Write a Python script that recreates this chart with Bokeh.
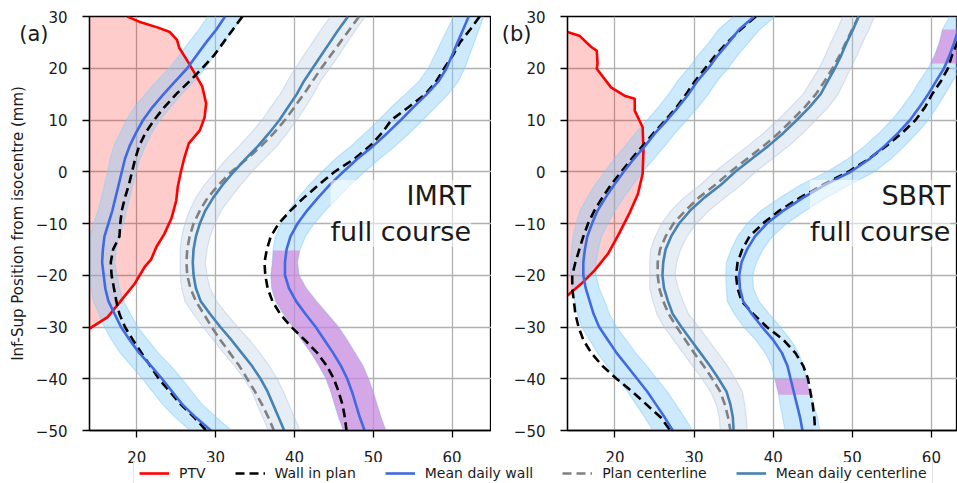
import numpy as np
from bokeh.plotting import figure
from bokeh.models import Range1d, Legend, LegendItem, FixedTicker, LinearAxis, Label
from bokeh.layouts import column, row
from bokeh.embed import file_html
from bokeh.resources import INLINE

FONT = "DejaVu Sans"

# ---------------- data ----------------
y_grid = [30, 27.5, 25, 22.5, 20, 17.5, 15, 12.5, 10, 7.5, 5, 2.5, 0, -2.5, -5, -7.5, -10,
          -12.5, -15, -17.5, -20, -22.5, -25, -27.5, -30, -32.5, -35, -37.5, -40, -42.5,
          -45, -47.5, -50]

x_ticks = [20, 30, 40, 50, 60]
y_ticks = [-50, -40, -30, -20, -10, 0, 10, 20, 30]
y_tick_labels = ["\u221250", "\u221240", "\u221230", "\u221220", "\u221210", "0", "10", "20", "30"]

# Panel (a) IMRT
a_ptv_x = [18.8, 20.3, 22.6, 24.2, 25.1, 25.4, 26.6, 28.3, 28.8, 28.6, 28.0, 26.6, 26.0, 25.6,
           25.2, 25.0, 24.4, 23.5, 22.5, 21.8, 21.0, 19.7, 18.0, 16.3, 14.0]
a_ptv_y = [30.0, 29.0, 27.9, 27.0, 25.5, 23.9, 21.0, 16.5, 13.2, 10.5, 8.0, 5.5, 2.5, 0.0,
           -2.9, -5.6, -9.0, -12.0, -14.5, -17.0, -18.4, -21.7, -24.9, -28.1, -30.3]
a_wall_plan_l = [33.4, 32.2, 31.0, 29.8, 28.3, 26.7, 25.0, 23.5, 22.2, 21.1, 20.3, 19.8, 19.4, 19.0,
                 18.5, 18.1, 17.9, 17.8, 17.0, 16.7, 16.8, 17.1, 17.4, 17.8, 18.5, 19.5, 20.6, 21.7,
                 22.8, 24.2, 25.6, 27.3, 28.8]
a_wall_mean_l = [31.2, 30.1, 28.8, 27.6, 26.4, 24.9, 23.4, 22.0, 20.8, 19.9, 19.1, 18.5, 18.1, 17.7,
                 17.3, 16.9, 16.4, 15.9, 15.7, 15.6, 15.8, 16.0, 16.4, 17.2, 18.0, 19.1, 20.3, 21.8,
                 23.2, 24.5, 25.8, 27.5, 29.4]
a_wall_sd_l = [2.2, 2.2, 2.2, 2.2, 2.3, 2.4, 2.3, 2.3, 2.1, 2.0, 2.0, 1.9, 1.8, 1.8, 1.8, 1.8, 1.9,
               1.8, 1.7, 1.6, 1.7, 1.8, 1.9, 2.0, 2.1, 2.3, 2.4, 2.5, 2.5, 2.5, 2.5, 2.6, 2.6]
a_wall_plan_r = [63.5, 62.3, 61.0, 60.1, 59.0, 58.0, 56.6, 54.5, 52.3, 51.1, 49.6, 47.6, 45.1, 43.1,
                 41.2, 39.5, 38.0, 37.0, 36.5, 36.2, 36.3, 36.6, 37.2, 38.2, 39.6, 41.3, 42.9, 44.1,
                 45.0, 45.6, 46.1, 46.4, 46.6]
a_wall_mean_r = [62.1, 61.4, 60.7, 60.0, 59.3, 58.3, 56.8, 55.1, 53.5, 51.8, 50.0, 48.0, 46.2, 44.5,
                 43.0, 41.6, 40.4, 39.5, 39.0, 38.8, 38.8, 39.3, 40.2, 41.4, 42.7, 43.8, 44.9, 45.9,
                 46.7, 47.3, 47.8, 48.3, 48.9]
a_wall_sd_r = [1.9, 2.0, 2.1, 2.2, 2.3, 2.5, 2.7, 2.8, 2.8, 2.8, 2.8, 2.8, 2.7, 2.6, 2.5, 2.3, 2.1,
               1.9, 1.7, 1.6, 1.8, 2.2, 2.6, 2.8, 2.9, 2.9, 2.8, 2.8, 2.7, 2.7, 2.7, 2.7, 2.7]
a_cl_plan = [48.2, 47.0, 45.8, 44.6, 43.4, 42.3, 41.2, 40.0, 38.8, 37.4, 35.8, 34.0, 32.0, 30.4,
             29.0, 28.0, 27.2, 26.7, 26.4, 26.3, 26.4, 26.8, 27.5, 28.5, 29.5, 30.6, 31.8, 33.0,
             34.0, 35.0, 35.9, 36.7, 37.4]
a_cl_mean = [46.8, 45.6, 44.5, 43.4, 42.3, 41.2, 40.3, 39.2, 38.1, 36.8, 35.4, 33.8, 32.3, 30.9,
             29.7, 28.7, 28.0, 27.5, 27.2, 27.1, 27.2, 27.5, 28.1, 29.3, 30.6, 32.0, 33.3, 34.6,
             35.7, 36.6, 37.3, 38.0, 38.7]
a_cl_sd = [2.2, 2.2, 2.2, 2.2, 2.2, 2.1, 2.1, 2.2, 2.2, 2.3, 2.4, 2.4, 2.3, 2.3, 2.2, 2.0, 1.9,
           1.8, 1.7, 1.6, 1.7, 1.8, 2.0, 2.1, 2.2, 2.3, 2.3, 2.2, 2.1, 2.0, 2.0, 2.0, 2.0]
a_purple_r = [(-15.2, -50.0)]

# Panel (b) SBRT
b_ptv_x = [14.0, 15.5, 17.0, 17.7, 17.8, 17.7, 19.5, 21.2, 22.5, 22.5, 23.5, 23.6, 23.5, 22.9,
           21.8, 20.5, 19.1, 17.4, 15.7, 14.0]
b_ptv_y = [27.0, 26.3, 24.1, 23.4, 20.9, 19.9, 16.3, 14.7, 14.1, 11.8, 8.6, 4.1, -0.4, -4.3,
           -8.1, -12.0, -15.9, -19.1, -21.7, -23.9]
b_wall_plan_l = [37.8, 35.9, 34.2, 32.7, 31.4, 30.1, 29.0, 27.8, 26.4, 24.9, 23.5, 22.1, 20.8, 19.5,
                 18.4, 17.4, 16.6, 16.0, 15.5, 15.0, 14.6, 14.6, 14.8, 15.0, 15.4, 16.0, 17.0, 18.4,
                 20.2, 22.2, 24.0, 25.8, 27.0]
b_wall_mean_l = [37.6, 35.7, 34.4, 33.0, 31.8, 30.4, 29.3, 28.0, 26.6, 25.1, 23.8, 22.4, 21.1, 19.9,
                 18.8, 17.8, 17.1, 16.5, 16.2, 16.0, 16.0, 16.3, 16.8, 17.3, 18.0, 19.1, 20.2, 21.5,
                 22.8, 24.1, 25.2, 26.3, 27.3]
b_wall_sd_l = [2.6, 2.6, 2.5, 2.5, 2.5, 2.5, 2.5, 2.5, 2.5, 2.5, 2.5, 2.5, 2.4, 2.4, 2.3, 2.2, 2.0,
               1.8, 1.7, 1.6, 1.6, 1.7, 1.9, 2.0, 2.2, 2.3, 2.4, 2.5, 2.5, 2.5, 2.5, 2.5, 2.5]
b_wall_plan_r = [65.0, 64.0, 63.3, 62.6, 62.1, 61.2, 60.1, 59.2, 58.0, 56.3, 54.3, 52.1, 49.5, 46.3,
                 43.4, 40.8, 38.7, 37.0, 36.1, 35.5, 35.3, 35.5, 36.0, 37.5, 39.2, 41.3, 42.8, 43.8,
                 44.4, 44.7, 45.0, 45.2, 45.3]
b_wall_mean_r = [64.3, 63.4, 62.9, 62.3, 61.6, 60.6, 59.6, 58.5, 57.3, 55.8, 54.1, 52.2, 49.8, 46.6,
                 43.8, 41.3, 39.2, 37.7, 36.7, 36.0, 35.7, 35.8, 36.2, 37.3, 38.6, 40.0, 41.1, 41.8,
                 42.2, 42.6, 43.0, 43.4, 43.7]
b_wall_sd_r = [2.0, 2.0, 1.9, 1.9, 2.0, 2.1, 2.1, 2.2, 2.3, 2.4, 2.5, 2.7, 3.0, 3.1, 2.9, 2.8, 2.5,
               2.2, 2.0, 1.9, 1.7, 1.7, 2.0, 2.2, 2.3, 2.2, 2.1, 2.0, 2.0, 2.0, 2.1, 2.2, 2.2]
b_cl_plan = [50.8, 50.0, 49.2, 48.4, 47.5, 46.5, 45.4, 44.0, 42.4, 40.7, 38.8, 36.7, 34.6, 32.7,
             30.6, 28.9, 27.4, 26.4, 25.7, 25.4, 25.4, 25.6, 26.1, 26.8, 27.8, 28.9, 30.0, 31.2,
             32.3, 33.3, 33.9, 34.3, 34.6]
b_cl_mean = [50.8, 50.1, 49.3, 48.6, 47.8, 46.9, 46.0, 44.6, 43.0, 41.3, 39.4, 37.3, 35.2, 33.4,
             31.3, 29.5, 28.1, 27.1, 26.4, 26.1, 26.0, 26.2, 26.7, 27.3, 28.4, 29.6, 30.8, 32.0,
             33.1, 34.1, 34.6, 34.9, 35.0]
b_cl_sd = [2.0, 2.0, 2.0, 2.0, 2.0, 2.1, 2.2, 2.4, 2.4, 2.5, 2.6, 2.6, 2.6, 2.6, 2.6, 2.4, 2.2,
           2.0, 1.9, 1.7, 1.6, 1.8, 1.9, 2.0, 2.2, 2.2, 2.2, 2.2, 2.1, 2.0, 1.8, 1.7, 1.7]
b_purple_r = [(27.5, 20.9), (-40.0, -43.1)]

legend_labels = ["PTV", "Wall in plan", "Mean daily wall", "Plan centerline", "Mean daily centerline"]
panel_tags = ["(a)", "(b)"]
panel_titles = ["IMRT\nfull course", "SBRT\nfull course"]
y_label = "Inf-Sup Position from isocentre (mm)"

# ---------------- styles ----------------
C_PTV = "#ff0000"
C_WALL_PLAN = "#000000"
C_WALL_MEAN = "#4169e1"
C_CL_PLAN = "#808080"
C_CL_MEAN = "#4682b4"
C_WALL_BAND = "#87cefa"
C_CL_BAND = "#b0c4de"
C_PURPLE = "#da70d6"
TXT = "#1a1a1a"
LW = 2.6
DASH = "9 5"
TAG_Y = 26.7


def band(p, xs, sd, ys, color, alpha, edge_alpha):
    lo = [x - s for x, s in zip(xs, sd)]
    hi = [x + s for x, s in zip(xs, sd)]
    p.harea(x1=lo, x2=hi, y=ys, fill_color=color, fill_alpha=alpha)
    p.line(lo, ys, line_color=color, line_alpha=edge_alpha, line_width=1.2)
    p.line(hi, ys, line_color=color, line_alpha=edge_alpha, line_width=1.2)


def sub_band(p, xs, sd, ys, intervals, color, alpha):
    lo = np.array(xs) - np.array(sd)
    hi = np.array(xs) + np.array(sd)
    yr = np.array(ys)[::-1]
    for ytop, ybot in intervals:
        inner = [y for y in ys if ybot < y < ytop]
        yy = [ytop] + inner + [ybot]
        lo_i = np.interp(yy, yr, lo[::-1])
        hi_i = np.interp(yy, yr, hi[::-1])
        p.harea(x1=list(lo_i), x2=list(hi_i), y=yy, fill_color=color, fill_alpha=alpha)


def make_panel(x_end, frame_w, border_left, ylabel, tag, tag_standoff, title, title_x, d):
    p = figure(frame_width=frame_w, frame_height=414,
               x_range=Range1d(14, x_end), y_range=Range1d(-50, 30),
               toolbar_location=None, output_backend="svg",
               min_border_left=border_left, min_border_right=0,
               min_border_top=16, min_border_bottom=38)
    p.background_fill_color = "white"
    p.border_fill_color = "white"
    p.outline_line_color = "black"
    p.outline_line_width = 1.3

    xt = FixedTicker(ticks=x_ticks, minor_ticks=[])
    yt = FixedTicker(ticks=y_ticks, minor_ticks=[])
    p.xaxis.ticker = xt
    p.yaxis.ticker = yt
    p.xgrid.ticker = xt
    p.ygrid.ticker = yt
    p.yaxis.major_label_overrides = {t: l for t, l in zip(y_ticks, y_tick_labels)}
    for ax in (p.xaxis, p.yaxis):
        ax.axis_line_color = "black"
        ax.axis_line_width = 1.3
        ax.major_tick_line_color = "black"
        ax.major_tick_line_width = 1.3
        ax.major_tick_out = 7
        ax.major_tick_in = 0
        ax.minor_tick_out = 0
        ax.minor_tick_in = 0
        ax.major_label_text_font = FONT
        ax.major_label_text_font_size = "15px"
        ax.major_label_text_color = TXT
    p.xaxis.major_label_standoff = 13
    p.yaxis.major_label_standoff = 15
    for g in (p.xgrid, p.ygrid):
        g.grid_line_color = "#b0b0b0"
        g.grid_line_width = 1.3

    # outer left axis carrying the panel tag (and the y label for panel a)
    tag_axis = LinearAxis(ticker=FixedTicker(ticks=[TAG_Y], minor_ticks=[]),
                          major_label_overrides={TAG_Y: tag})
    tag_axis.axis_line_color = None
    tag_axis.major_tick_line_color = None
    tag_axis.major_tick_out = 0
    tag_axis.major_tick_in = 0
    tag_axis.minor_tick_out = 0
    tag_axis.minor_tick_in = 0
    tag_axis.major_label_text_font = FONT
    tag_axis.major_label_text_font_size = "21px"
    tag_axis.major_label_text_color = TXT
    tag_axis.major_label_standoff = tag_standoff
    if ylabel:
        tag_axis.axis_label = ylabel
        tag_axis.axis_label_text_font = FONT
        tag_axis.axis_label_text_font_size = "15px"
        tag_axis.axis_label_text_font_style = "normal"
        tag_axis.axis_label_text_color = TXT
        tag_axis.axis_label_standoff = -11
    p.add_layout(tag_axis, "left")

    # PTV fill
    p.harea(x1=[0.0] * len(d["ptv_x"]), x2=d["ptv_x"], y=d["ptv_y"],
            fill_color=C_PTV, fill_alpha=0.2)
    # bands
    band(p, d["cl_mean"], d["cl_sd"], y_grid, C_CL_BAND, 0.3, 0.45)
    band(p, d["wall_mean_l"], d["wall_sd_l"], y_grid, C_WALL_BAND, 0.42, 0.5)
    band(p, d["wall_mean_r"], d["wall_sd_r"], y_grid, C_WALL_BAND, 0.42, 0.5)
    sub_band(p, d["wall_mean_r"], d["wall_sd_r"], y_grid, d["purple_r"], C_PURPLE, 0.55)

    # lines
    p.line(d["ptv_x"], d["ptv_y"], line_color=C_PTV, line_width=LW)
    for k in ("wall_plan_l", "wall_plan_r"):
        p.line(d[k], y_grid, line_color=C_WALL_PLAN, line_width=LW, line_dash=DASH)
    for k in ("wall_mean_l", "wall_mean_r"):
        p.line(d[k], y_grid, line_color=C_WALL_MEAN, line_width=LW)
    p.line(d["cl_plan"], y_grid, line_color=C_CL_PLAN, line_width=LW, line_dash=DASH)
    p.line(d["cl_mean"], y_grid, line_color=C_CL_MEAN, line_width=LW)

    p.add_layout(Label(x=title_x, y=-1.6, text=title, text_font=FONT,
                       text_font_size="27px", text_color=TXT, text_align="right",
                       text_baseline="top", text_line_height=1.15,
                       background_fill_color="white", background_fill_alpha=0.55))
    return p


da = dict(ptv_x=a_ptv_x, ptv_y=a_ptv_y, wall_plan_l=a_wall_plan_l, wall_mean_l=a_wall_mean_l,
          wall_sd_l=a_wall_sd_l, wall_plan_r=a_wall_plan_r, wall_mean_r=a_wall_mean_r,
          wall_sd_r=a_wall_sd_r, cl_plan=a_cl_plan, cl_mean=a_cl_mean, cl_sd=a_cl_sd,
          purple_r=a_purple_r)
db = dict(ptv_x=b_ptv_x, ptv_y=b_ptv_y, wall_plan_l=b_wall_plan_l, wall_mean_l=b_wall_mean_l,
          wall_sd_l=b_wall_sd_l, wall_plan_r=b_wall_plan_r, wall_mean_r=b_wall_mean_r,
          wall_sd_r=b_wall_sd_r, cl_plan=b_cl_plan, cl_mean=b_cl_mean, cl_sd=b_cl_sd,
          purple_r=b_purple_r)

pa = make_panel(65, 402, 89, y_label, panel_tags[0], -16, panel_titles[0], 62.4, da)
pb = make_panel(63.3, 390, 76, None, panel_tags[1], -21, panel_titles[1], 62.4, db)

# legend strip (series drawn outside its own ranges; only the legend is visible)
pl = figure(width=957, height=21, x_range=Range1d(0, 1), y_range=Range1d(0, 1),
            toolbar_location=None, output_backend="svg", min_border=0,
            x_axis_location=None, y_axis_location=None, margin=(-6, 0, 0, 0))
pl.grid.visible = False
pl.outline_line_color = None
pl.background_fill_alpha = 0
pl.border_fill_alpha = 0
series = [(a_ptv_x, a_ptv_y, dict(line_color=C_PTV)),
          (a_wall_plan_l, y_grid, dict(line_color=C_WALL_PLAN, line_dash=DASH)),
          (a_wall_mean_l, y_grid, dict(line_color=C_WALL_MEAN)),
          (a_cl_plan, y_grid, dict(line_color=C_CL_PLAN, line_dash=DASH)),
          (a_cl_mean, y_grid, dict(line_color=C_CL_MEAN))]
items = []
for lab, (sx, sy, st) in zip(legend_labels, series):
    r = pl.line(x=sx, y=sy, line_width=LW, **st)
    items.append(LegendItem(label=lab, renderers=[r]))
leg = Legend(items=items, orientation="horizontal", location=(133, -4), spacing=29,
             padding=5, margin=0, label_standoff=10, glyph_width=30, glyph_height=14,
             label_height=14, label_text_font=FONT, label_text_font_size="14px",
             label_text_color=TXT, border_line_color="#cccccc", border_line_width=1.2,
             background_fill_alpha=1.0)
pl.add_layout(leg)

layout = column(row(pa, pb, spacing=0), pl, spacing=0)

open("out.html", "w").write(file_html(layout, INLINE))
